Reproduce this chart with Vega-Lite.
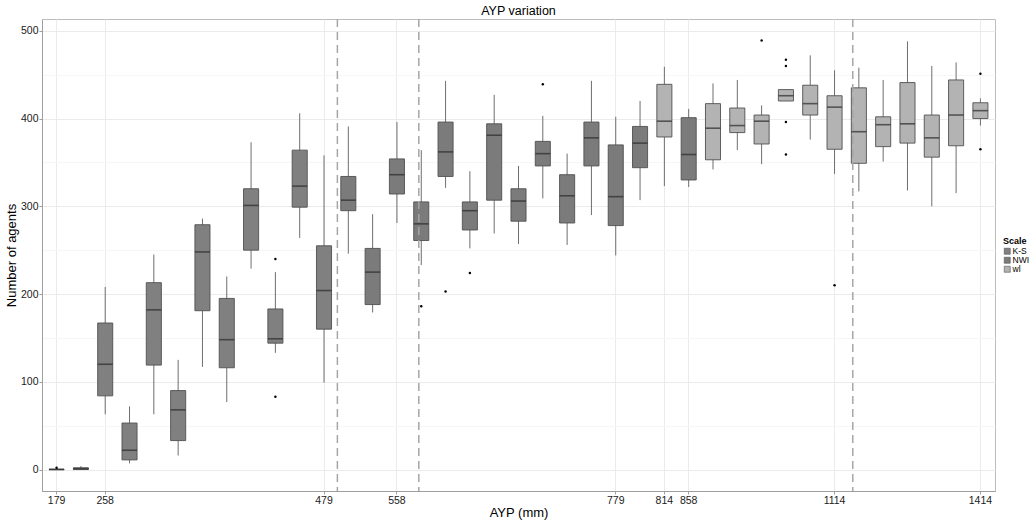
{
  "$schema": "https://vega.github.io/schema/vega-lite/v6.json",
  "autosize": {"type": "none"},
  "padding": {"left": 42, "top": 19, "right": 41, "bottom": 34},
  "width": 953,
  "height": 472,
  "background": "white",
  "config": {
    "font": "Liberation Sans",
    "view": {"stroke": "#bdbdbd", "strokeWidth": 1},
    "axis": {"labelColor": "#1a1a1a", "titleColor": "#000000", "titleFontWeight": "normal", "domainColor": "#9e9e9e", "tickColor": "#9e9e9e", "gridColor": "#ebebeb"},
    "title": {"fontSize": 12.5, "fontWeight": "normal", "color": "#000000", "offset": 1}
  },
  "title": {"text": "AYP variation", "anchor": "middle"},
  "datasets": {
    "boxes": [
      {"AYP": 179, "Scale": "K-S", "lo": 0, "q1": 0, "med": 0, "q3": 0.5, "hi": 1},
      {"AYP": 218, "Scale": "K-S", "lo": 0, "q1": 0, "med": 1, "q3": 2, "hi": 4},
      {"AYP": 258, "Scale": "K-S", "lo": 63, "q1": 84, "med": 120, "q3": 167, "hi": 208},
      {"AYP": 283, "Scale": "K-S", "lo": 7, "q1": 11, "med": 22, "q3": 53, "hi": 72},
      {"AYP": 307, "Scale": "K-S", "lo": 63, "q1": 119, "med": 182, "q3": 213, "hi": 245},
      {"AYP": 331, "Scale": "K-S", "lo": 16, "q1": 33, "med": 68, "q3": 90, "hi": 125},
      {"AYP": 355, "Scale": "K-S", "lo": 117, "q1": 181, "med": 248, "q3": 279, "hi": 286},
      {"AYP": 380, "Scale": "K-S", "lo": 77, "q1": 116, "med": 148, "q3": 195, "hi": 220},
      {"AYP": 405, "Scale": "K-S", "lo": 229, "q1": 250, "med": 301, "q3": 320, "hi": 373},
      {"AYP": 430, "Scale": "K-S", "lo": 133, "q1": 144, "med": 149, "q3": 183, "hi": 225},
      {"AYP": 455, "Scale": "K-S", "lo": 264, "q1": 299, "med": 323, "q3": 364, "hi": 406},
      {"AYP": 479, "Scale": "K-S", "lo": 99, "q1": 160, "med": 204, "q3": 255, "hi": 358},
      {"AYP": 505, "Scale": "NWI", "lo": 246, "q1": 295, "med": 307, "q3": 334, "hi": 391},
      {"AYP": 531, "Scale": "NWI", "lo": 179, "q1": 188, "med": 225, "q3": 252, "hi": 291},
      {"AYP": 558, "Scale": "NWI", "lo": 281, "q1": 314, "med": 336, "q3": 354, "hi": 396},
      {"AYP": 582, "Scale": "NWI", "lo": 233, "q1": 261, "med": 280, "q3": 305, "hi": 364},
      {"AYP": 606, "Scale": "NWI", "lo": 321, "q1": 334, "med": 362, "q3": 396, "hi": 443},
      {"AYP": 630, "Scale": "NWI", "lo": 252, "q1": 273, "med": 295, "q3": 305, "hi": 340},
      {"AYP": 654, "Scale": "NWI", "lo": 269, "q1": 307, "med": 381, "q3": 394, "hi": 427},
      {"AYP": 678, "Scale": "NWI", "lo": 257, "q1": 283, "med": 306, "q3": 320, "hi": 346},
      {"AYP": 702, "Scale": "NWI", "lo": 309, "q1": 346, "med": 360, "q3": 374, "hi": 403},
      {"AYP": 728, "Scale": "NWI", "lo": 256, "q1": 281, "med": 312, "q3": 336, "hi": 360},
      {"AYP": 754, "Scale": "NWI", "lo": 290, "q1": 346, "med": 378, "q3": 396, "hi": 443},
      {"AYP": 779, "Scale": "NWI", "lo": 244, "q1": 278, "med": 311, "q3": 370, "hi": 402},
      {"AYP": 797, "Scale": "NWI", "lo": 307, "q1": 344, "med": 372, "q3": 391, "hi": 420},
      {"AYP": 814, "Scale": "wl", "lo": 323, "q1": 379, "med": 397, "q3": 439, "hi": 459},
      {"AYP": 858, "Scale": "NWI", "lo": 322, "q1": 330, "med": 359, "q3": 401, "hi": 411},
      {"AYP": 900, "Scale": "wl", "lo": 342, "q1": 353, "med": 389, "q3": 417, "hi": 440},
      {"AYP": 943, "Scale": "wl", "lo": 364, "q1": 384, "med": 392, "q3": 412, "hi": 444},
      {"AYP": 986, "Scale": "wl", "lo": 348, "q1": 371, "med": 397, "q3": 404, "hi": 415},
      {"AYP": 1029, "Scale": "wl", "lo": 420, "q1": 420, "med": 426, "q3": 433, "hi": 433},
      {"AYP": 1071, "Scale": "wl", "lo": 376, "q1": 404, "med": 417, "q3": 438, "hi": 472},
      {"AYP": 1114, "Scale": "wl", "lo": 337, "q1": 365, "med": 413, "q3": 426, "hi": 455},
      {"AYP": 1164, "Scale": "wl", "lo": 317, "q1": 349, "med": 385, "q3": 435, "hi": 458},
      {"AYP": 1214, "Scale": "wl", "lo": 351, "q1": 368, "med": 393, "q3": 402, "hi": 444},
      {"AYP": 1264, "Scale": "wl", "lo": 318, "q1": 372, "med": 394, "q3": 441, "hi": 488},
      {"AYP": 1314, "Scale": "wl", "lo": 300, "q1": 356, "med": 378, "q3": 404, "hi": 460},
      {"AYP": 1364, "Scale": "wl", "lo": 315, "q1": 369, "med": 404, "q3": 444, "hi": 464},
      {"AYP": 1414, "Scale": "wl", "lo": 392, "q1": 400, "med": 409, "q3": 418, "hi": 423}
    ],
    "outliers": [
      {"AYP": 179, "v": 2},
      {"AYP": 430, "v": 240},
      {"AYP": 430, "v": 83},
      {"AYP": 582, "v": 186},
      {"AYP": 606, "v": 203},
      {"AYP": 630, "v": 224},
      {"AYP": 702, "v": 439},
      {"AYP": 986, "v": 489},
      {"AYP": 1029, "v": 467},
      {"AYP": 1029, "v": 460},
      {"AYP": 1029, "v": 396},
      {"AYP": 1029, "v": 359},
      {"AYP": 1114, "v": 210},
      {"AYP": 1414, "v": 451},
      {"AYP": 1414, "v": 365}
    ],
    "vlines": [
      {"between": "479-505", "pos": 11.55},
      {"between": "558-582", "pos": 14.9},
      {"between": "1114-1164", "pos": 32.75}
    ]
  },
  "layer": [
    {
      "layer": [
        {
          "data": {"name": "boxes"},
          "mark": {"type": "rule", "color": "#6e6e6e", "strokeWidth": 1},
          "encoding": {
            "x": {"field": "AYP", "type": "ordinal"},
            "y": {"field": "lo", "type": "quantitative"},
            "y2": {"field": "hi"}
          }
        },
        {
          "data": {"name": "boxes"},
          "mark": {"type": "bar", "stroke": "#505050", "strokeWidth": 0.9},
          "encoding": {
            "x": {"field": "AYP", "type": "ordinal"},
            "y": {"field": "q1", "type": "quantitative"},
            "y2": {"field": "q3"},
            "fill": {
              "field": "Scale", "type": "nominal",
              "scale": {"domain": ["K-S", "NWI", "wl"], "range": ["#808080", "#7b7b7b", "#b3b3b3"]},
              "legend": {
                "orient": "none", "legendX": 961, "legendY": 218,
                "title": "Scale", "titleFontSize": 9, "titleFontWeight": "bold", "titleColor": "#000000", "titlePadding": 1,
                "labelFontSize": 8.5, "labelColor": "#000000", "labelOffset": 1,
                "symbolType": "square", "symbolSize": 36, "symbolStrokeColor": "#505050", "symbolStrokeWidth": 0.6,
                "rowPadding": 0, "padding": 0
              }
            }
          }
        },
        {
          "data": {"name": "boxes"},
          "mark": {"type": "tick", "color": "#2b2b2b", "thickness": 1.6, "size": 15},
          "encoding": {
            "x": {"field": "AYP", "type": "ordinal"},
            "y": {"field": "med", "type": "quantitative"}
          }
        },
        {
          "data": {"name": "outliers"},
          "mark": {"type": "circle", "color": "#000000", "size": 6, "opacity": 1},
          "encoding": {
            "x": {"field": "AYP", "type": "ordinal"},
            "y": {"field": "v", "type": "quantitative"}
          }
        }
      ],
      "encoding": {
        "x": {
          "field": "AYP", "type": "ordinal",
          "scale": {"type": "band", "paddingInner": 0.38, "paddingOuter": 0.29},
          "axis": {
            "title": "AYP (mm)", "titleFontSize": 13, "titlePadding": 0,
            "values": [179, 258, 479, 558, 779, 814, 858, 1114, 1414],
            "labelAngle": 0, "labelFontSize": 10.5, "labelPadding": 1.5, "tickSize": 3,
            "grid": true, "domain": true
          }
        },
        "y": {
          "type": "quantitative",
          "scale": {"domain": [-24.45, 513.45], "nice": false, "zero": false},
          "axis": {
            "title": "Number of agents", "titleFontSize": 13, "titlePadding": 2,
            "values": [0, 50, 100, 150, 200, 250, 300, 350, 400, 450, 500],
            "labelExpr": "datum.value % 100 === 0 ? datum.label : ''",
            "labelFontSize": 10.5, "labelPadding": 1, "tickSize": 3,
            "tickOpacity": {"condition": {"test": "datum.value % 100 !== 0", "value": 0}, "value": 1},
            "gridColor": {"condition": {"test": "datum.value % 100 !== 0", "value": "#f6f6f6"}, "value": "#ebebeb"}
          }
        }
      }
    },
    {
      "data": {"name": "vlines"},
      "mark": {"type": "rule", "color": "#a6a6a6", "strokeWidth": 1.5, "strokeDash": [8, 5]},
      "encoding": {
        "x": {"field": "pos", "type": "quantitative", "scale": {"domain": [-0.6, 38.6], "nice": false, "zero": false}, "axis": null}
      }
    }
  ],
  "resolve": {"scale": {"x": "independent"}, "axis": {"x": "independent"}}
}
